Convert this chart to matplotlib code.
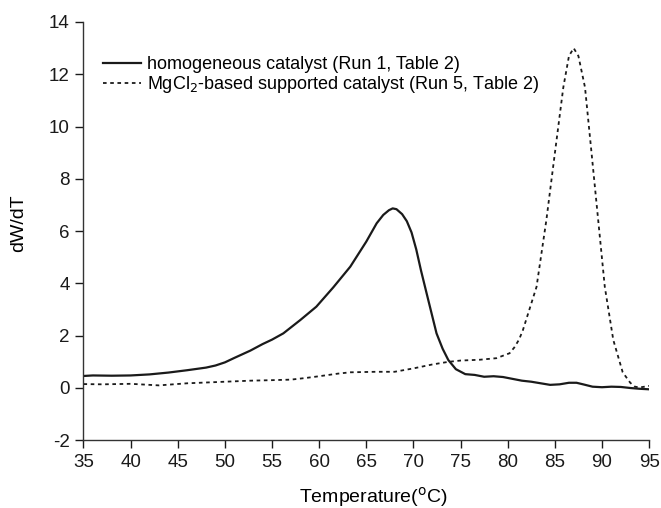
import matplotlib
matplotlib.use("Agg")
import matplotlib.pyplot as plt

plt.rcParams['font.family'] = ['Liberation Sans', 'DejaVu Sans']
plt.rcParams['axes.unicode_minus'] = False

# homogeneous catalyst (Run 1)
temp_homo = [35, 36, 38, 40, 42, 44, 46, 48, 49, 50, 51, 52.7, 54, 55, 56.2, 58, 59.7,
             61.5, 63.3, 65, 66.1, 66.8, 67.4, 67.8, 68.2, 68.8, 69.3, 69.8, 70.3, 70.8,
             71.4, 72.45, 73.1, 73.7, 74.5, 75.5, 76.5, 77.5, 78.5, 79.5, 80.5, 81.5, 82.5,
             83.5, 84.5, 85.5, 86.5, 87.3, 88, 89, 90, 91, 92, 93, 94, 95]
dwdt_homo = [0.46, 0.48, 0.47, 0.48, 0.52, 0.59, 0.68, 0.78, 0.86, 0.98, 1.15, 1.43, 1.68,
             1.85, 2.09, 2.6, 3.11, 3.85, 4.64, 5.6, 6.3, 6.62, 6.8, 6.87, 6.84, 6.65, 6.38,
             5.95, 5.3, 4.5, 3.62, 2.09, 1.5, 1.07, 0.72, 0.53, 0.5, 0.43, 0.45, 0.42, 0.35,
             0.28, 0.24, 0.18, 0.12, 0.14, 0.2, 0.2, 0.14, 0.05, 0.03, 0.05, 0.04, 0.0,
             -0.03, -0.05]

# MgCl2-based supported catalyst (Run 5)
temp_supp = [35, 37, 40, 43, 46, 50, 52.7, 55, 57, 58.5, 60, 62, 63.3, 66, 68, 70, 72,
             73.7, 75, 77, 78.8, 80.2, 80.7, 81.2, 81.6, 82.3, 83.06, 84.1, 85, 85.9, 86.5,
             87, 87.5, 88.2, 88.9, 89.6, 90.3, 91.2, 92.2, 93, 93.5, 94, 94.5, 95]
dwdt_supp = [0.15, 0.14, 0.16, 0.1, 0.18, 0.24, 0.28, 0.3, 0.32, 0.38, 0.45, 0.55, 0.6,
             0.62, 0.62, 0.75, 0.9, 1.0, 1.05, 1.08, 1.14, 1.33, 1.55, 1.85, 2.2, 3.0, 3.87,
             6.42, 8.97, 11.5, 12.7, 13.0, 12.7, 11.5, 8.97, 6.42, 3.87, 1.84, 0.6, 0.2,
             0.05, 0.02, 0.05, 0.08]

xticks = list(range(35, 96, 5))
yticks = list(range(-2, 15, 2))

fig = plt.figure(figsize=(6.61, 5.08), dpi=100)
ax = fig.add_axes([0.1263, 0.1333, 0.8557, 0.8234])

ax.plot(temp_homo, dwdt_homo, color='#1a1a1a', lw=1.6, linestyle='-',
        label='homogeneous catalyst (Run 1, Table 2)')
ax.plot(temp_supp, dwdt_supp, color='#1a1a1a', lw=1.3, linestyle=(0, (2, 2)),
        label=r'MgCl$_2$-based supported catalyst (Run 5, Table 2)')

ax.set_xlim(35, 95)
ax.set_ylim(-2, 14)
ax.set_xticks(xticks)
ax.set_yticks(yticks)
ax.spines['top'].set_visible(False)
ax.spines['right'].set_visible(False)
for s in ('left', 'bottom'):
    ax.spines[s].set_linewidth(1.0)
    ax.spines[s].set_color('#333333')
ax.tick_params(direction='out', length=6, width=1.0, labelsize=13.5, colors='#1a1a1a',
               pad=4)

ax.set_xlabel('Temperature($^{\\rm o}$C)', fontsize=14)
ax.xaxis.set_label_coords(0.513, -0.150)
ax.xaxis.label.set_verticalalignment('baseline')
ax.set_ylabel('dW/dT', fontsize=14)
ax.yaxis.set_label_coords(-0.115, 0.518)
ax.yaxis.label.set_verticalalignment('center')

leg = ax.legend(loc='upper left', bbox_to_anchor=(0.022, 0.935), frameon=False,
                fontsize=13, handlelength=2.1, handletextpad=0.35, labelspacing=0.05,
                borderaxespad=0.0)

fig.savefig('out.png', dpi=100)
